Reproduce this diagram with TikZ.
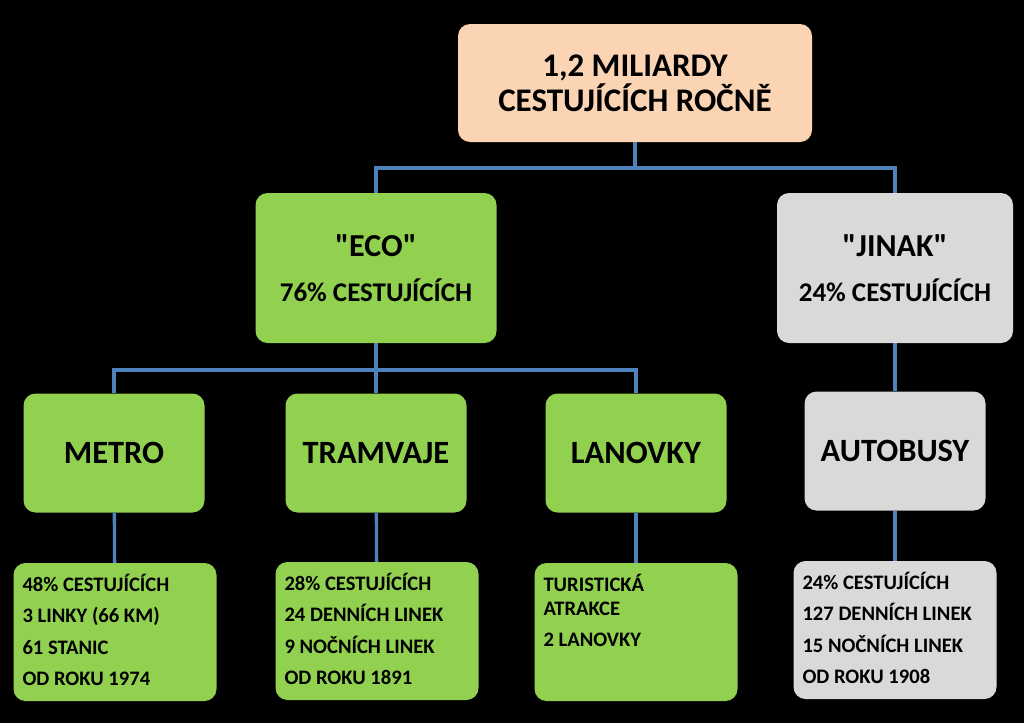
\documentclass[tikz,border=0pt]{standalone}
\usepackage{fontspec}
\setmainfont{Carlito}
\definecolor{peach}{HTML}{FBD4B4}
\definecolor{ecogreen}{HTML}{92D050}
\definecolor{lightgrey}{HTML}{D9D9D9}
\definecolor{linkblue}{HTML}{4F81BD}
\newcommand{\infotext}[1]{\parbox[t][116pt][t]{185pt}{\baselineskip=31.5pt #1}}
\newcommand{\dq}{\XeTeXglyph\XeTeXcharglyph"0022\relax}
\newcommand{\grouptitle}[1]{{\fontsize{32}{32}\selectfont\dq #1\dq}}
\tikzset{
  box/.style={rounded corners=12pt, inner sep=0pt, align=center, font=\bfseries},
  headbox/.style={box, fill=peach, minimum width=354pt, minimum height=118pt, font=\bfseries\fontsize{33}{35}\selectfont},
  groupbox/.style={box, minimum width=241pt, minimum height=150pt, font=\bfseries\fontsize{27}{45}\selectfont},
  modebox/.style={box, minimum width=181pt, minimum height=119pt, font=\bfseries\fontsize{32.5}{36}\selectfont},
  infobox/.style={box, inner xsep=9pt, inner ysep=11pt, align=left, font=\bfseries\fontsize{20.6}{31.5}\selectfont},
  link/.style={draw=linkblue, line width=3.3pt}
}
\begin{document}
\begin{tikzpicture}[x=1pt,y=-1pt]
	\fill[black] (0,0) rectangle (1024,723);
	\useasboundingbox (0,0) rectangle (1024,723);
	% nodes
	\node	(top) at (635,83) [headbox] {1,2 MILIARDY\\CESTUJÍCÍCH ROČNĚ};
	\node	(eco) at (376,268) [groupbox, fill=ecogreen] {\grouptitle{ECO}\\76\% CESTUJÍCÍCH};
	\node	(jinak) at (895,268) [groupbox, fill=lightgrey, minimum width=236pt] {\grouptitle{JINAK}\\24\% CESTUJÍCÍCH};
	\node	(metro) at (114,453) [modebox, fill=ecogreen] {METRO};
	\node	(tram) at (376,453) [modebox, fill=ecogreen] {TRAMVAJE};
	\node	(lanovky) at (636,453) [modebox, fill=ecogreen] {LANOVKY};
	\node	(bus) at (895,451) [modebox, fill=lightgrey] {AUTOBUSY};
	\node	(metroinfo) at (115,632) [infobox, fill=ecogreen] {\infotext{48\% CESTUJÍCÍCH\\3 LINKY (66 KM)\\61 STANIC\\OD ROKU 1974}};
	\node	(traminfo) at (377,631) [infobox, fill=ecogreen] {\infotext{28\% CESTUJÍCÍCH\\24 DENNÍCH LINEK\\9 NOČNÍCH LINEK\\OD ROKU 1891}};
	\node	(lanovkyinfo) at (636,632) [infobox, fill=ecogreen] {\infotext{TURISTICKÁ\\[-7.5pt]ATRAKCE\\2 LANOVKY}};
	\node	(businfo) at (895,630) [infobox, fill=lightgrey] {\infotext{24\% CESTUJÍCÍCH\\127 DENNÍCH LINEK\\15 NOČNÍCH LINEK\\OD ROKU 1908}};
	\coordinate (split1) at (635,168);
	\coordinate (split2) at (376,370);
	% connectors
	\draw[link] (top.south) -- (split1);
	\draw[link] (eco.north) |- (split1) -| (jinak.north);
	\draw[link] (eco.south) -- (tram.north);
	\draw[link] (metro.north) |- (split2) -| (lanovky.north);
	\draw[link] (jinak.south) -- (bus.north);
	\draw 
	(metro) edge[link] (metroinfo)
	(tram) edge[link] (traminfo)
	(lanovky) edge[link] (lanovkyinfo)
	(bus) edge[link] (businfo)
	;
\end{tikzpicture}
\end{document}
